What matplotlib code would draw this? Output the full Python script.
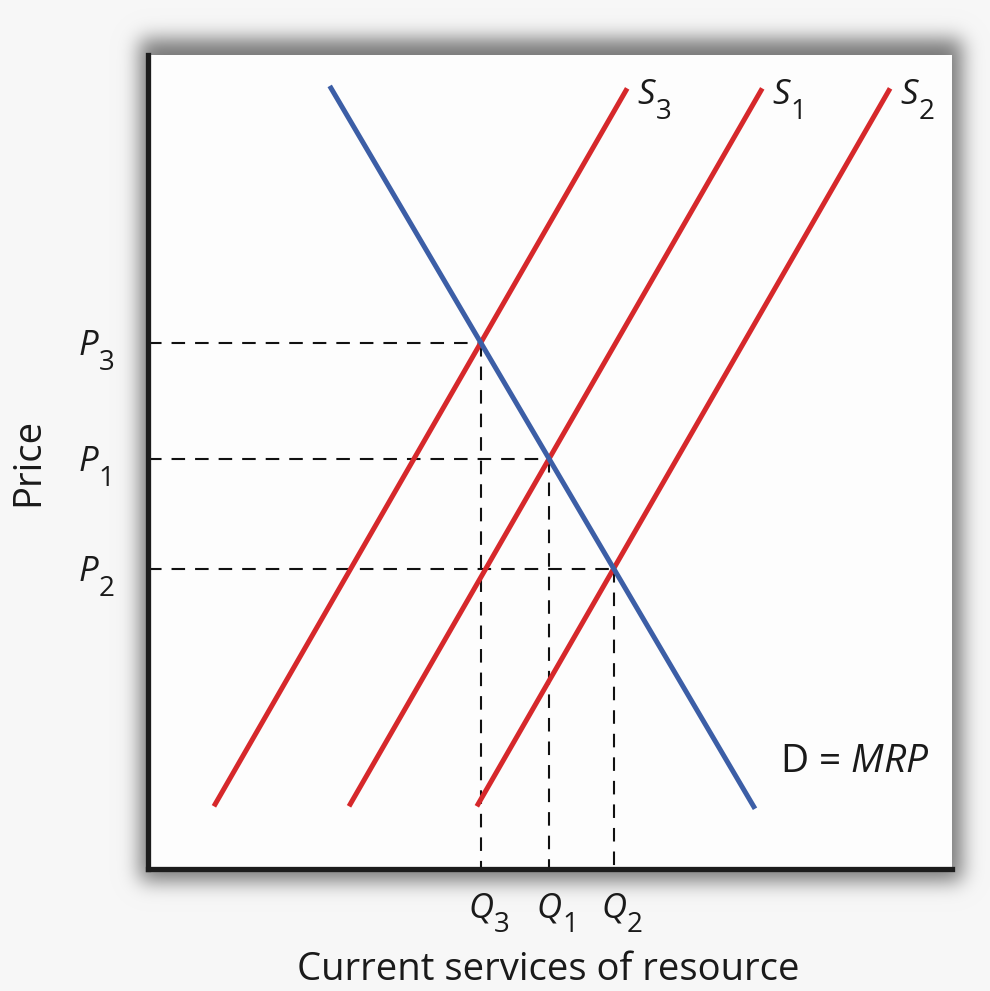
import math
import numpy as np
import matplotlib
matplotlib.use("Agg")
import matplotlib.pyplot as plt

plt.rcParams['font.family'] = ['Open Sans', 'DejaVu Sans']
plt.rcParams['mathtext.fontset'] = 'custom'
plt.rcParams['mathtext.rm'] = 'Open Sans'
plt.rcParams['mathtext.it'] = 'Open Sans:italic'

# ---- data (arbitrary units, 0-100 on both axes) ----
demand_x = [22.6, 75.5]
demand_y = [96.2, 7.4]

supply_names = [("S", "3"), ("S", "1"), ("S", "2")]
supply_x = [[8.2, 59.6], [25.0, 76.4], [40.9, 92.3]]
supply_y = [7.7, 95.9]

price_labels = [("P", "3"), ("P", "1"), ("P", "2")]
qty_labels = [("Q", "3"), ("Q", "1"), ("Q", "2")]

x_label = "Current services of resource"
y_label = "Price"
demand_label = "D = $MRP$"

red = "#d6282b"
blue = "#3c5ea6"
ink = "#1a1a1a"

W, H = 990, 991
fig = plt.figure(figsize=(W / 100, H / 100), dpi=100)
fig.patch.set_facecolor("#f7f7f7")

# axes placement (pixels)
L, R, T, B = 148, 952, 55, 869

# ---- soft drop shadow behind the plot box ----
bg = fig.add_axes([0, 0, 1, 1], zorder=0)
bg.set_axis_off()
xs = np.arange(W) + 0.5
ys = np.arange(H) + 0.5
erf = np.vectorize(math.erf)
s = 14.0
fx = 0.5 * (erf((xs - (L - 8)) / s) - erf((xs - (R + 10)) / s))
fy = 0.5 * (erf((ys - (T - 16)) / s) - erf((ys - (B + 12)) / s))
mask = np.outer(fy, fx)
base = 0.969
img = np.clip(base - 0.5 * mask, 0, 1)
bg.imshow(np.dstack([img, img, img]), extent=[0, W, H, 0], aspect='auto',
          interpolation='bilinear')
bg.set_xlim(0, W)
bg.set_ylim(H, 0)

ax = fig.add_axes([L / W, 1 - B / H, (R - L) / W, (B - T) / H], zorder=1)
ax.set_facecolor("#fdfdfd")
ax.set_xlim(0, 100)
ax.set_ylim(0, 100)
for side in ["top", "right"]:
    ax.spines[side].set_visible(False)
for side in ["left", "bottom"]:
    ax.spines[side].set_linewidth(3.8)
    ax.spines[side].set_color("#1c1c1c")
    ax.spines[side].set_capstyle('projecting')
ax.set_xticks([])
ax.set_yticks([])

LETTER_FS = 25
SUB_FS = 20


def sub_label(xy, letter, sub, dx, dy, ha):
    t = ax.annotate(letter, xy=xy, xytext=(dx, dy), textcoords='offset points',
                    ha=ha, va='baseline', fontsize=LETTER_FS, style='italic',
                    annotation_clip=False, color=ink)
    ax.annotate(sub, xy=(1, 0), xycoords=t, xytext=(0.5, -4.8),
                textcoords='offset points', ha='left', va='baseline',
                fontsize=SUB_FS, annotation_clip=False, color=ink)


# demand line
ax.plot(demand_x, demand_y, color=blue, lw=3.6, solid_capstyle='butt', zorder=4)

# supply lines and equilibria
dslope = (demand_y[1] - demand_y[0]) / (demand_x[1] - demand_x[0])
for name, sx, plab, qlab in zip(supply_names, supply_x, price_labels, qty_labels):
    ax.plot(sx, supply_y, color=red, lw=3.6, solid_capstyle='butt', zorder=3)
    sslope = (supply_y[1] - supply_y[0]) / (sx[1] - sx[0])
    qx = (supply_y[0] - sslope * sx[0] - demand_y[0] + dslope * demand_x[0]) / (dslope - sslope)
    py = demand_y[0] + dslope * (qx - demand_x[0])
    ax.plot([0, qx], [py, py], color="#111111", lw=1.5, ls=(0, (6.5, 4.8)), zorder=2)
    ax.plot([qx, qx], [py, 0], color="#111111", lw=1.5, ls=(0, (6.5, 4.8)), zorder=2)
    sub_label((0, py), plab[0], plab[1], -50, -9, 'left')
    sub_label((qx, 0), qlab[0], qlab[1], 0, -35, 'center')
    sub_label((sx[1], supply_y[1]), name[0], name[1], 7.5, -11.5, 'left')

ax.text(78.6, 13.1, demand_label, ha='left', va='center', fontsize=28, color=ink)

fig.text(548 / W, 1 - 970 / H, x_label, ha='center', va='center', fontsize=27.5, color=ink)
fig.text(28 / W, 1 - 462 / H, y_label, ha='center', va='center', rotation=90, fontsize=27.5,
         color=ink)

fig.savefig("out.png", dpi=100, facecolor=fig.get_facecolor())
